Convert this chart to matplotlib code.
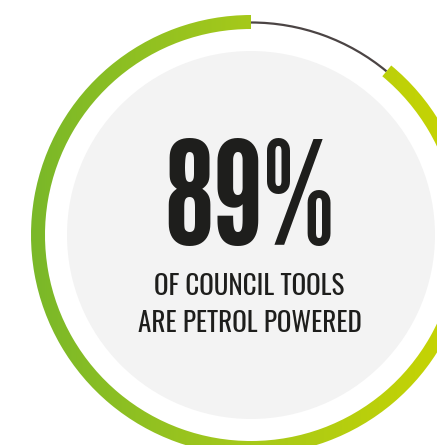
import matplotlib
matplotlib.use("Agg")
import matplotlib.pyplot as plt
import numpy as np
from matplotlib.colors import LinearSegmentedColormap
from matplotlib.patches import Arc, Circle

# data
labels = ["Petrol powered", "Other"]
values = [89, 11]
headline = "89%"
subtitle = ["OF COUNCIL TOOLS", "ARE PETROL POWERED"]

W, H = 437, 445
fig = plt.figure(figsize=(W / 100, H / 100), dpi=100)
ax = fig.add_axes([0, 0, 1, 1])

cx, cy = 251, H - 235      # circle centre (pixels, y up)
r_out, ring_w = 220, 14
r_inner = 184

wedges, _ = ax.pie(values, startangle=90, counterclock=True, radius=r_out,
                   center=(cx, cy), wedgeprops=dict(width=ring_w, linewidth=0))
green, rest = wedges
green.set_facecolor("none")
rest.set_visible(False)

# horizontal gradient for the green part of the ring
cmap = LinearSegmentedColormap.from_list("ring", ["#7ab829", "#a6c91a", "#cad500"])
grad = np.linspace(0, 1, 256).reshape(1, -1)
img = ax.imshow(grad, cmap=cmap, extent=(cx - r_out, cx + r_out, cy - r_out, cy + r_out),
                aspect="auto", interpolation="bilinear", zorder=2)
img.set_clip_path(green)

# thin line for the remaining share
ax.add_patch(Arc((cx, cy), 2 * 212.5, 2 * 212.5, theta1=rest.theta1, theta2=rest.theta2,
                 color="#4b4444", lw=1.6, zorder=2))

ax.add_patch(Circle((cx, cy), r_inner, color="#f3f3f3", lw=0, zorder=1))

ax.text(250, H - 245, headline, ha="center", va="baseline", fontsize=104,
        family="League Gothic", color="#1e1e1c", zorder=3)
for txt, x, y in zip(subtitle, [249, 249.5], [295, 332]):
    ax.text(x, H - y, txt, ha="center", va="baseline", fontsize=19.5,
            family="Oswald", weight="medium", color="#1e1e1c", zorder=3)

ax.set_xlim(0, W)
ax.set_ylim(0, H)
ax.set_aspect("auto")
ax.axis("off")
fig.savefig("out.png", dpi=100, facecolor="white")
